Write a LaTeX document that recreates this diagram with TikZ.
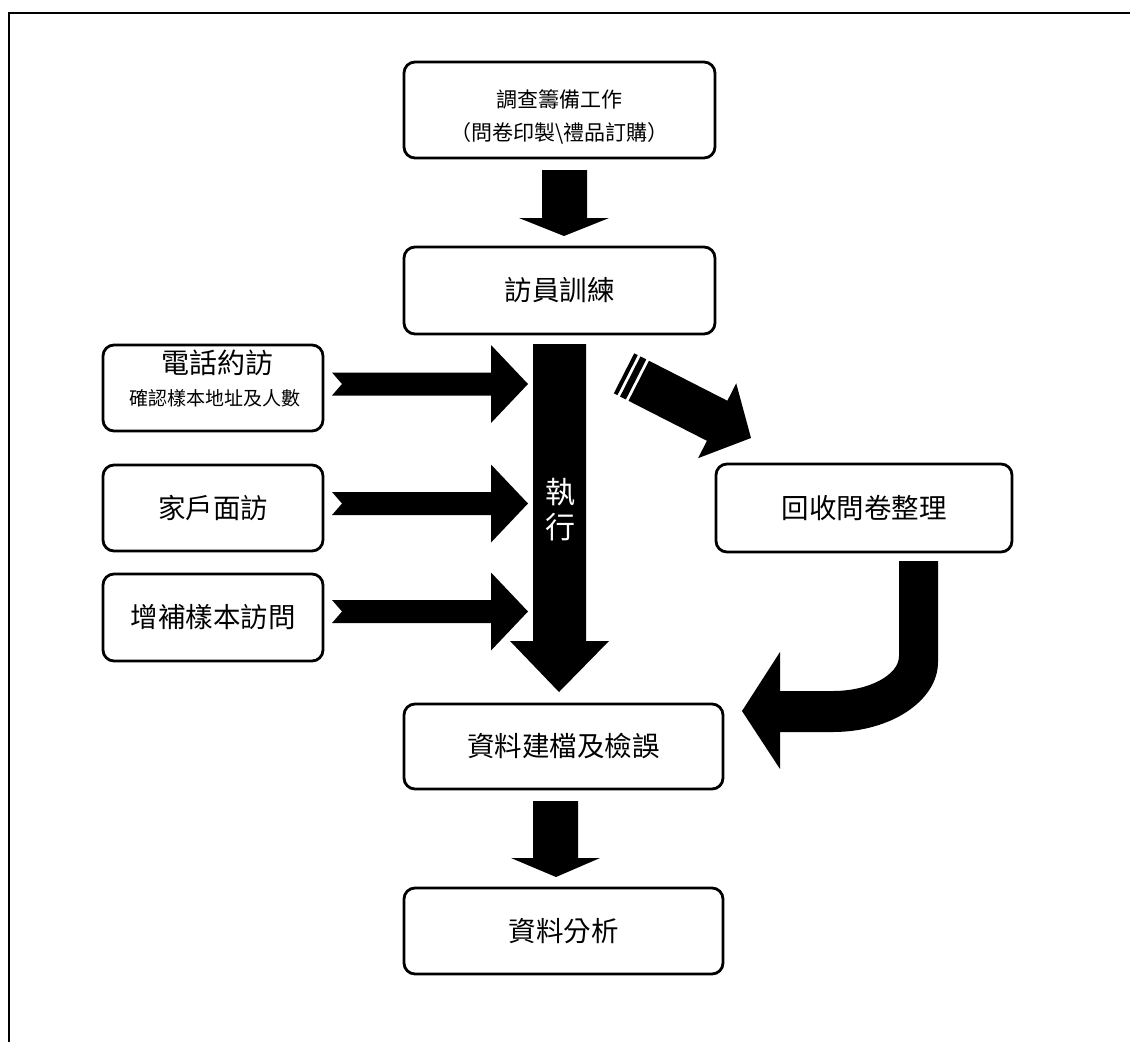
\documentclass[tikz,border=0pt]{standalone}
\usepackage{fontspec}
\newfontfamily\cjk{Noto Sans CJK TC}
\usetikzlibrary{calc}
\begin{document}
\begin{tikzpicture}[x=1pt,y=-1pt,
  box/.style={draw, line width=2.8pt, rounded corners=11pt, inner sep=0pt, outer sep=0pt,
    align=center, font=\cjk\fontsize{27.5}{33}\selectfont},
  txt/.style={inner sep=0pt, align=center},
  harrow/.pic={\fill (9,-11.5) -- (168,-11.5) -- (168,-39) -- (205,0) -- (168,39)
     -- (168,11.5) -- (9,11.5) -- (19,0) -- cycle;}
]
\useasboundingbox (0,0) rectangle (1130,1042);
% frame
\draw[line width=2pt] (9.2,1042) -- (9.2,13) -- (1130,13);

% boxes
\node[box, minimum width=311pt, minimum height=96pt] (b1) at (559.5,110) {};
\node[txt, font=\cjk\fontsize{21}{33}\selectfont] (b1t) at (559.5,116.5)
  {調查籌備工作\\（問卷印製\textbackslash 禮品訂購）};
\node[box, minimum width=311pt, minimum height=87pt] (b2) at (559.5,290.5) {訪員訓練};
\node[box, minimum width=220pt, minimum height=86pt] (l1) at (213,388) {};
\node[txt, font=\cjk\fontsize{28}{28}\selectfont] (l1a) at (217.5,363) {電話約訪};
\node[txt, font=\cjk\fontsize{19}{19}\selectfont] (l1b) at (214.5,398) {確認樣本地址及人數};
\node[box, minimum width=220pt, minimum height=86pt] (l2) at (213,508) {家戶面訪};
\node[box, minimum width=220pt, minimum height=87pt] (l3) at (213,617.5) {增補樣本訪問};
\node[box, minimum width=296pt, minimum height=88pt] (r1) at (864,508) {回收問卷整理};
\node[box, minimum width=319pt, minimum height=85pt] (b3) at (563.5,746.5) {資料建檔及檢誤};
\node[box, minimum width=319pt, minimum height=86pt] (b4) at (563.5,931) {資料分析};

% b1 -> b2
\fill[shift={(b1.south)}] (-17.5,12) -- (27.5,12) -- (27.5,60) -- (49.5,60) -- (4.5,78)
  -- (-40.5,60) -- (-17.5,60) -- cycle;
% execution arrow b2 -> b3
\fill[shift={(b2.south)}] (-26.5,10) -- (26.5,10) -- (26.5,307) -- (49.5,307) -- (-0.5,358)
  -- (-49.5,307) -- (-26.5,307) -- cycle;
\node[txt, text=white, font=\cjk\fontsize{30}{35}\selectfont] (exe)
  at ($(b2.south)+(0.5,175.5)$) {執\\行};
% left inputs
\pic at ($(l1.east)+(0,-4)$) {harrow};
\pic at ($(l2.east)+(0,-4.5)$) {harrow};
\pic at ($(l3.east)+(0,-6)$) {harrow};
% striped diagonal arrow to r1
\begin{scope}[shift={(r1.north west)}, shift={(35,-26)}, rotate=-27]
  \fill (-126,-22.5) -- (-38,-22.5) -- (-38,-42) -- (0,0) -- (-38,42) -- (-38,22.5)
    -- (-126,22.5) -- cycle;
  \fill (-135.5,-22.5) rectangle (-129,22.5);
  \fill (-142.5,-22.5) rectangle (-138.5,22.5);
\end{scope}
% curved arrow r1 -> b3
\fill[shift={(r1.south)}] (35,9) -- (74,9) -- (74,110) .. controls (74,148.5) and (27,180) .. (-31,180)
  -- (-84,180) -- (-84,217) -- (-122,159) -- (-84,100) -- (-84,139) -- (-31,139)
  .. controls (5,139) and (35,123) .. (35,104) -- cycle;
% b3 -> b4
\fill[shift={(b3.south)}] (-30.5,12) -- (14.5,12) -- (14.5,69) -- (36.5,69) -- (-7.5,88)
  -- (-52.5,69) -- (-30.5,69) -- cycle;
\end{tikzpicture}
\end{document}
